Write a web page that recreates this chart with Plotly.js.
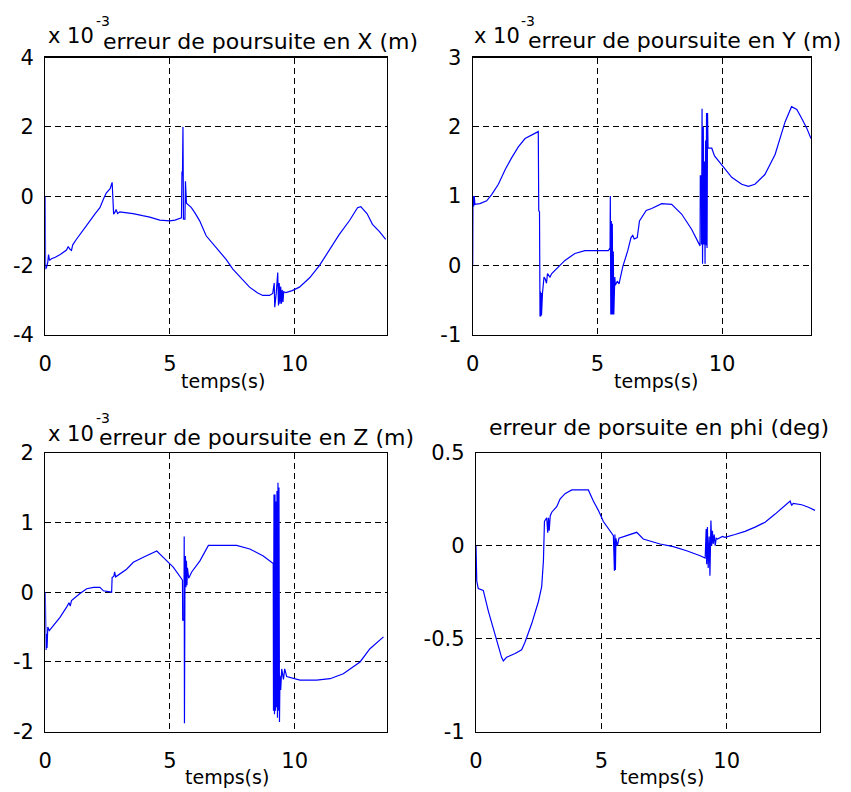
<!DOCTYPE html>
<html><head><meta charset="utf-8">
<script src="https://cdn.plot.ly/plotly-3.0.1.min.js"></script>
<style>body{margin:0;background:#fff}</style>
</head><body><div id="chart" style="width:851px;height:792px"></div>
<script>
// ---- Data (errors) ----
const tX=[0,0.01,0.05,0.1,0.13,0.17,0.25,0.4,0.6,0.85,0.92,0.98,1.05,1.1,1.25,1.5,1.79,2.0,2.19,2.35,2.45,2.6,2.68,2.7,2.74,2.8,2.84,2.9,2.99,3.2,3.52,3.9,4.19,4.59,4.99,5.2,5.39,5.46,5.48,5.5,5.52,5.54,5.6,5.62,5.66,5.72,5.85,6.0,6.19,6.45,6.7,6.99,7.25,7.52,7.9,8.19,8.5,8.72,8.99,9.12,9.18,9.2,9.26,9.32,9.35,9.38,9.41,9.44,9.47,9.5,9.53,9.56,9.65,9.9,10.19,10.6,10.99,11.4,11.79,12.2,12.52,12.65,12.9,13.12,13.4,13.65];
const eX=[0,-2.1,-2.05,-1.9,-1.68,-1.85,-1.8,-1.76,-1.68,-1.55,-1.45,-1.52,-1.56,-1.4,-1.24,-0.98,-0.71,-0.5,-0.33,-0.05,0.1,0.22,0.4,0.1,-0.52,-0.45,-0.38,-0.5,-0.45,-0.47,-0.5,-0.56,-0.6,-0.69,-0.71,-0.69,-0.64,-0.62,0.71,0.6,2.0,-0.66,-0.66,0.43,-0.2,-0.24,-0.32,-0.48,-0.71,-1.14,-1.35,-1.57,-1.82,-2.1,-2.4,-2.62,-2.78,-2.86,-2.86,-2.8,-2.5,-3.2,-2.8,-2.2,-3.15,-2.5,-3.1,-2.6,-3.1,-2.7,-3.05,-2.75,-2.78,-2.72,-2.62,-2.35,-2.0,-1.55,-1.1,-0.7,-0.33,-0.3,-0.5,-0.81,-1.02,-1.24];

const tY=[0,0.01,0.04,0.06,0.09,0.29,0.56,0.76,1.03,1.3,1.56,1.83,2.1,2.37,2.63,2.65,2.68,2.7,2.72,2.73,2.75,2.76,2.8,2.86,2.91,2.96,3.0,3.1,3.17,3.44,3.7,4.1,4.5,4.77,5.44,5.51,5.52,5.54,5.56,5.58,5.6,5.62,5.64,5.66,5.7,5.72,5.8,5.87,6.02,6.22,6.35,6.42,6.48,6.6,6.69,6.96,7.18,7.58,7.98,8.38,8.78,9.05,9.12,9.13,9.17,9.18,9.2,9.22,9.25,9.27,9.3,9.32,9.34,9.36,9.38,9.4,9.42,9.44,9.59,9.7,9.99,10.39,10.79,11.06,11.32,11.72,12.13,12.53,12.79,13.0,13.2,13.4,13.57];
const eY=[0,1.0,0.85,1.0,0.88,0.89,0.93,1.02,1.17,1.38,1.55,1.71,1.83,1.88,1.93,0.79,0.77,-0.74,-0.38,-0.74,-0.4,-0.72,-0.4,-0.17,-0.2,-0.26,-0.12,-0.17,-0.12,-0.02,0.07,0.17,0.21,0.21,0.21,0.25,1.0,-0.71,0.64,-0.71,0.6,-0.71,0.2,-0.71,-0.17,-0.29,-0.23,-0.27,-0.02,0.21,0.4,0.43,0.38,0.4,0.64,0.79,0.82,0.89,0.88,0.74,0.52,0.33,0.28,1.29,1.29,0.3,2.26,0.02,2.0,0.3,1.5,0.02,1.8,0.29,2.2,0.25,2.2,1.69,1.69,1.58,1.45,1.27,1.17,1.14,1.17,1.31,1.6,2.07,2.29,2.25,2.12,1.98,1.83];

const tZ=[0,0.03,0.05,0.07,0.1,0.16,0.32,0.59,0.86,0.95,1.0,1.05,1.39,1.66,1.93,2.19,2.33,2.66,2.68,2.75,2.78,2.82,3.26,3.53,3.93,4.47,4.73,5.13,5.47,5.5,5.51,5.56,5.57,5.58,5.59,5.6,5.62,5.64,5.66,5.68,5.7,5.75,5.87,6.2,6.54,7.67,8.2,8.74,9.14,9.15,9.17,9.19,9.21,9.23,9.25,9.27,9.29,9.31,9.33,9.35,9.37,9.39,9.41,9.44,9.48,9.55,9.6,9.68,9.95,10.21,10.88,11.42,11.95,12.35,12.62,13.02,13.56];
const eZ=[0,-0.83,-0.6,-0.8,-0.5,-0.55,-0.48,-0.36,-0.21,-0.15,-0.2,-0.12,-0.02,0.05,0.07,0.07,0.02,0.0,0.21,0.23,0.29,0.22,0.33,0.43,0.5,0.59,0.5,0.36,0.19,0.17,-0.4,-0.4,0.8,-1.88,-0.4,0.17,0.52,0.07,0.45,0.1,0.35,0.2,0.29,0.45,0.67,0.67,0.62,0.52,0.41,-1.7,1.4,-1.75,1.4,-1.7,1.3,-1.65,1.45,-1.8,1.57,-1.7,1.5,-1.86,-1.2,-1.4,-1.1,-1.25,-1.1,-1.21,-1.24,-1.26,-1.26,-1.24,-1.17,-1.07,-1.0,-0.81,-0.64];

const tPhi=[0,0.03,0.09,0.29,0.49,0.76,1.02,1.09,1.22,1.56,1.82,1.95,2.22,2.49,2.62,2.69,2.73,2.82,2.86,2.89,2.92,2.96,3.02,3.22,3.35,3.55,3.82,4.35,4.48,4.68,4.88,5.08,5.41,5.48,5.52,5.54,5.56,5.58,5.61,5.64,5.7,5.81,6.41,6.67,7.34,7.87,8.4,8.94,9.14,9.18,9.2,9.23,9.26,9.3,9.33,9.37,9.4,9.43,9.46,9.5,9.54,9.58,9.63,9.83,9.93,10.33,10.73,11.13,11.53,11.93,12.26,12.53,12.59,12.65,12.99,13.26,13.52];
const ePhi=[0,-0.19,-0.23,-0.24,-0.35,-0.48,-0.6,-0.62,-0.6,-0.58,-0.56,-0.52,-0.42,-0.3,-0.22,-0.08,0.13,0.15,0.07,0.15,0.08,0.16,0.18,0.21,0.25,0.28,0.3,0.3,0.3,0.24,0.19,0.13,0.07,0.054,-0.135,0.06,-0.13,0.04,0.018,0.0,0.04,0.045,0.072,0.036,0.009,-0.005,-0.027,-0.054,-0.067,0.09,-0.1,0.1,-0.12,0.05,-0.162,0.135,0.0,0.08,0.01,0.06,0.0,0.04,0.036,0.05,0.045,0.06,0.077,0.1,0.126,0.17,0.207,0.24,0.216,0.228,0.22,0.207,0.19];

const xTickVals=[0,5,10];
const xTickText=['0','5','10'];
const yTickValsX=[-4,-2,0,2,4],   yTickTextX=['-4','-2','0','2','4'];
const yTickValsY=[-1,0,1,2,3],    yTickTextY=['-1','0','1','2','3'];
const yTickValsZ=[-2,-1,0,1,2],   yTickTextZ=['-2','-1','0','1','2'];
const yTickValsPhi=[-1,-0.5,0,0.5], yTickTextPhi=['-1','-0.5','0','0.5'];

const titles=['erreur de poursuite en X (m)','erreur de poursuite en Y (m)','erreur de poursuite en Z (m)','erreur de porsuite en phi (deg)'];
const xLabel='temps(s)';
const scaleLabel='x 10', scaleExp='-3';

// ---- Layout geometry (pixels) ----
const W=851,H=792;
const fx=v=>v/W, fy=v=>1-v/H;
const FONT='DejaVu Sans';
const panels=[
 {x0:45.3,x1:386.7,y0:57.5,y1:335,xr:[0,13.69],yr:[-4,4],yv:yTickValsX,yt:yTickTextX,t:tX,e:eX},
 {x0:472.7,x1:811,y0:57.5,y1:334.5,xr:[0,13.57],yr:[-1,3],yv:yTickValsY,yt:yTickTextY,t:tY,e:eY},
 {x0:45.3,x1:386.7,y0:452.7,y1:731.7,xr:[0,13.69],yr:[-2,2],yv:yTickValsZ,yt:yTickTextZ,t:tZ,e:eZ},
 {x0:476,x1:820,y0:452.7,y1:731.7,xr:[0,13.72],yr:[-1,0.5],yv:yTickValsPhi,yt:yTickTextPhi,t:tPhi,e:ePhi}
];
const traces=[], layout={width:W,height:H,margin:{l:0,r:0,t:0,b:0},paper_bgcolor:'#fff',plot_bgcolor:'#fff',showlegend:false,annotations:[]};
panels.forEach((p,i)=>{
  const n=i+1, xa='xaxis'+(n===1?'':n), ya='yaxis'+(n===1?'':n);
  traces.push({x:p.t,y:p.e,type:'scatter',mode:'lines',line:{color:'#0000ff',width:1.2},xaxis:'x'+(n===1?'':n),yaxis:'y'+(n===1?'':n),hoverinfo:'none'});
  const common={showline:true,mirror:true,linecolor:'#000',linewidth:1.2,showgrid:true,gridcolor:'#000',gridwidth:1,griddash:'6px,4px',zeroline:false,ticks:'',tickfont:{family:FONT,size:21,color:'#000'},fixedrange:true};
  layout[xa]=Object.assign({},common,{domain:[fx(p.x0),fx(p.x1)],range:p.xr,tickmode:'array',tickvals:xTickVals,ticktext:xTickText,anchor:'y'+(n===1?'':n),ticklabelstandoff:10});
  layout[ya]=Object.assign({},common,{domain:[fy(p.y1),fy(p.y0)],range:p.yr,tickmode:'array',tickvals:p.yv,ticktext:p.yt,anchor:'x'+(n===1?'':n),ticklabelstandoff:6});
});
function ann(text,x,y,size,xanchor){
  layout.annotations.push({text:text,xref:'paper',yref:'paper',x:fx(x),y:fy(y),xanchor:xanchor||'left',yanchor:'middle',showarrow:false,font:{family:FONT,size:size,color:'#000'},borderpad:0});
}
// titles
ann(titles[0],101.7,41.7,22);
ann(titles[1],526.7,40.7,22);
ann(titles[2],98.3,437.4,22);
ann(titles[3],488.3,427.4,22);
// scale factors
ann(scaleLabel,46.7,36,21); ann(scaleExp,95,21,14);
ann(scaleLabel,473,36,21);  ann(scaleExp,520,21,14);
ann(scaleLabel,46.7,434.4,21); ann(scaleExp,95,418.2,14);
// x labels
ann(xLabel,223.3,381,19,'center');
ann(xLabel,655.5,381,19,'center');
ann(xLabel,226.7,777,19,'center');
ann(xLabel,661.5,777,19,'center');
Plotly.newPlot('chart',traces,layout,{staticPlot:true,displayModeBar:false});
</script></body></html>
